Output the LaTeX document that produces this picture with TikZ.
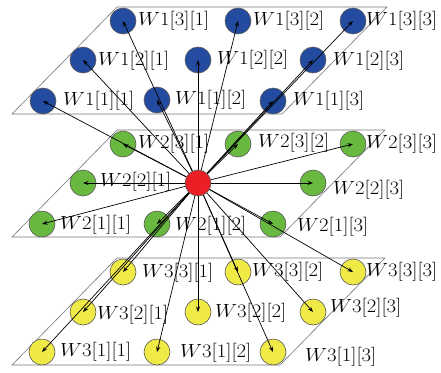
\documentclass[tikz,border=0pt]{standalone}
\usetikzlibrary{arrows.meta}
\definecolor{c1}{RGB}{35,75,160}
\definecolor{c2}{RGB}{105,185,65}
\definecolor{c3}{RGB}{240,234,70}
\definecolor{cr}{RGB}{235,32,38}
\tikzset{
  blob/.style={circle, minimum size=26pt, inner sep=0pt, draw=black!65, line width=0.6pt},
  lab/.style={anchor=west, inner sep=0pt, font=\fontsize{17.28}{20}\selectfont},
  plane/.style={draw=black!55, line width=0.6pt},
  arr/.style={-{Stealth[length=5.5pt,width=4pt]}, line width=0.7pt, black}
}
\begin{document}
\begin{tikzpicture}[x=1pt,y=-1pt]
\useasboundingbox (0,0) rectangle (441,372);
% planes
\draw[plane] (12,114) -- (117,7) -- (387,7) -- (282,114) -- cycle;
\draw[plane] (12,237) -- (117,130) -- (385,130) -- (280,237) -- cycle;
\draw[plane] (12,365) -- (117,258) -- (385,258) -- (280,365) -- cycle;
% nodes
\foreach \L/\i/\j/\cx/\cy/\lx/\ly in {
1/3/1/123/21/138/21, 1/3/2/238/21/253/21, 1/3/3/353/21/366/21,
1/2/1/83/60/98/61, 1/2/2/198/60/217/60, 1/2/3/313/60/333/61,
1/1/1/43/101/63/101, 1/1/2/157/100/175/100, 1/1/3/273/101/293/101,
2/3/1/123/144/138/144, 2/3/2/238/144/258/143, 2/3/3/353/144/366/144,
2/2/1/83/183/100/182, 2/2/3/313/183/333/190,
2/1/1/42/224/60/225, 2/1/2/157/224/175/226, 2/1/3/273/224/297/227,
3/3/1/123/272/142/273, 3/3/2/238/272/252/272, 3/3/3/353/272/366/272,
3/2/1/83/312/97/315, 3/2/2/198/312/215/313, 3/2/3/313/312/330/308,
3/1/1/42/352/60/352, 3/1/2/157/352/180/353, 3/1/3/273/352/305/357}{
  \node[blob, fill=c\L] (n\L\i\j) at (\cx,\cy) {};
  \node[lab] (t\L\i\j) at (\lx,\ly) {\scalebox{1.2}[1.1]{$W\L[\i][\j]$}};
}
\node[blob, fill=cr] (r) at (198,183) {};
% arrows
\foreach \n in {131,132,133,121,122,123,111,112,113,231,232,233,221,223,211,212,213,331,332,333,321,322,323,311,312,313}{
  \draw[arr] (r) -- (n\n.center);
}
\end{tikzpicture}
\end{document}
